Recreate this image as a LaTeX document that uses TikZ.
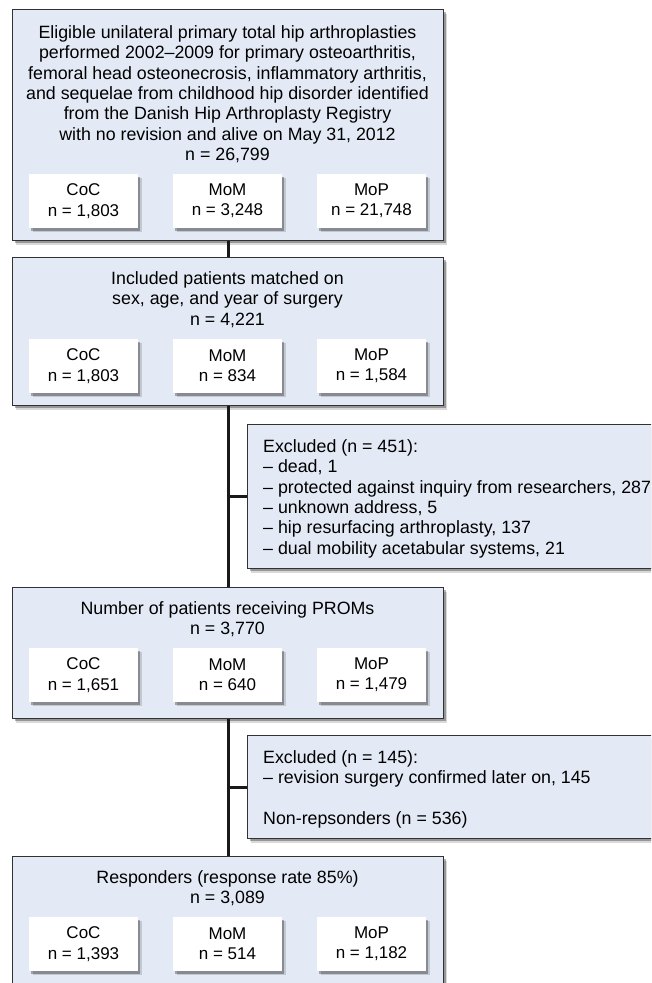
\documentclass[tikz,border=0pt]{standalone}
\usepackage{fontspec}
\setmainfont{Liberation Sans}
\usetikzlibrary{shadows}
\definecolor{boxfill}{RGB}{228,234,245}
\definecolor{boxline}{RGB}{50,50,50}
\newcommand\myfs{\fontsize{17.8}{20.3}\selectfont}
\newcommand\mysubfs{\fontsize{17}{20.3}\selectfont}
\tikzset{
  myshadow/.style={
    general shadow={shadow xshift=3.5pt, shadow yshift=-4pt, fill=black, opacity=0.15},
    general shadow={shadow xshift=2pt, shadow yshift=-2.5pt, fill=black, opacity=0.3}},
  bigbox/.style={draw=boxline, line width=1.2pt, fill=boxfill, minimum width=431pt,
    anchor=north west, inner sep=0pt, myshadow},
  exbox/.style={draw=boxline, line width=1.2pt, fill=boxfill, minimum width=440pt,
    anchor=north west, inner sep=0pt, myshadow},
  subbox/.style={fill=white, minimum width=109pt, minimum height=54pt, inner sep=0pt,
    align=center, font=\mysubfs, myshadow},
  title/.style={anchor=north, align=center, inner sep=0pt, font=\myfs},
  extext/.style={anchor=north west, align=left, inner sep=0pt, font=\myfs},
  conn/.style={draw=black!90, line width=3pt}
}
\begin{document}
\begin{tikzpicture}[x=1pt,y=-1pt]
\useasboundingbox (0,0) rectangle (651,983);
\clip (0,0) rectangle (651,983);
\fill[white] (0,0) rectangle (651,983);

% box 1
\node[bigbox, minimum height=231pt] (b1) at (12,9) {};
\node[title] (t1) at (227.5,25.5) {Eligible unilateral primary total hip arthroplasties\\
performed 2002–2009 for primary osteoarthritis,\\
femoral head osteonecrosis, inflammatory arthritis,\\
and sequelae from childhood hip disorder identified\\
from the Danish Hip Arthroplasty Registry\\
with no revision and alive on May 31, 2012\\
n = 26,799};
\node[subbox] (b1a) at (83.5,201) {CoC\\n = 1,803};
\node[subbox] (b1b) at (227.5,201) {MoM\\n = 3,248};
\node[subbox] (b1c) at (371.5,201) {MoP\\n = 21,748};

% box 2
\node[bigbox, minimum height=148pt] (b2) at (12,257) {};
\node[title] (t2) at (227.5,271.5) {Included patients matched on\\
sex, age, and year of surgery\\
n = 4,221};
\node[subbox] (b2a) at (83.5,366) {CoC\\n = 1,803};
\node[subbox] (b2b) at (227.5,366) {MoM\\n = 834};
\node[subbox] (b2c) at (371.5,366) {MoP\\n = 1,584};

% excluded 1
\node[exbox, minimum height=144pt] (e1) at (247,424) {};
\node[extext] (e1t) at (263,439.5) {Excluded (n = 451):\\
– dead, 1\\
– protected against inquiry from researchers, 287\\
– unknown address, 5\\
– hip resurfacing arthroplasty, 137\\
– dual mobility acetabular systems, 21};

% box 3
\node[bigbox, minimum height=131pt] (b3) at (12,587) {};
\node[title] (t3) at (227.5,601.5) {Number of patients receiving PROMs\\
n = 3,770};
\node[subbox] (b3a) at (83.5,675) {CoC\\n = 1,651};
\node[subbox] (b3b) at (227.5,675) {MoM\\n = 640};
\node[subbox] (b3c) at (371.5,675) {MoP\\n = 1,479};

% excluded 2
\node[exbox, minimum height=103pt] (e2) at (247,735) {};
\node[extext] (e2t) at (263,750.5) {Excluded (n = 145):\\
– revision surgery confirmed later on, 145\\[20.3pt]
Non-repsonders (n = 536)};

% box 4
\node[bigbox, minimum height=150pt] (b4) at (12,856) {};
\node[title] (t4) at (227.5,870.5) {Responders (response rate 85\%)\\
n = 3,089};
\node[subbox] (b4a) at (83.5,944) {CoC\\n = 1,393};
\node[subbox] (b4b) at (227.5,944) {MoM\\n = 514};
\node[subbox] (b4c) at (371.5,944) {MoP\\n = 1,182};

% connectors
\draw[conn] (b1.south) -- (b2.north);
\draw[conn] (b2.south) -- (b3.north);
\draw[conn] (b3.south) -- (b4.north);
\draw[conn] (e1.west -| b2.south) -- (e1.west);
\draw[conn] (e2.west -| b3.south) -- (e2.west);
\end{tikzpicture}
\end{document}
